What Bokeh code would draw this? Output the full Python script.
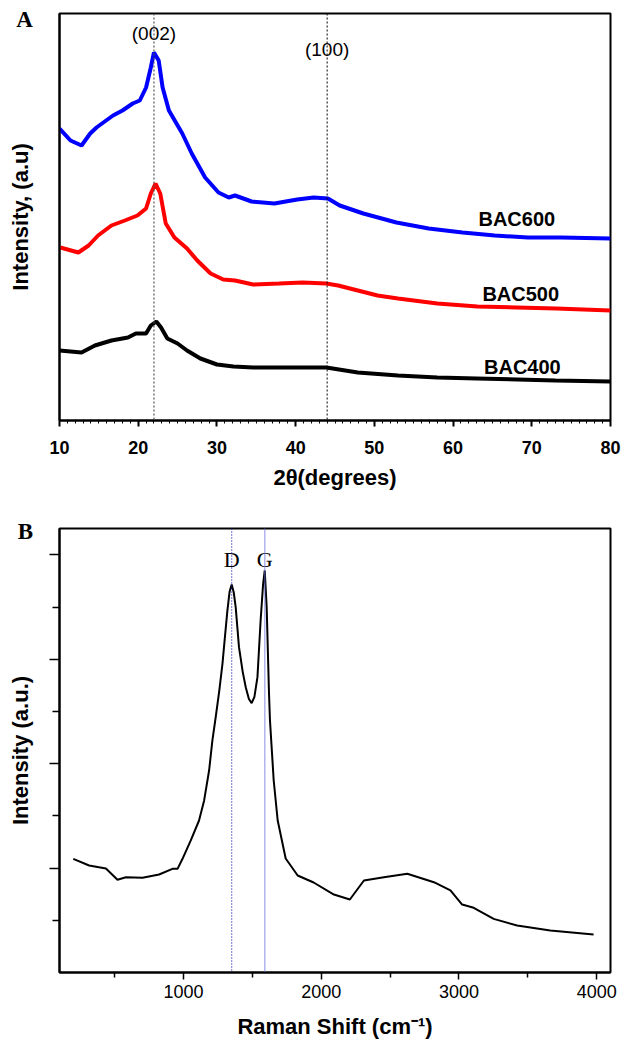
from bokeh.plotting import figure
from bokeh.layouts import column
from bokeh.models import Span, Label, FixedTicker, Range1d
from bokeh.core.properties import value
from bokeh.embed import file_html
from bokeh.resources import INLINE

# ---------------- Panel A : XRD ----------------
bac600_x = [10, 11.4, 12.8, 13.9, 14.7, 16.8, 18.0, 19.3, 20.2, 21.0, 21.6, 22.0, 22.6, 23.1,
            23.9, 25.6, 26.8, 28.5, 30.2, 31.5, 32.3, 34.4, 37.3, 40.2, 42.3, 44.1, 45.6,
            48.6, 52.8, 56.9, 61.2, 65.3, 69.5, 73.7, 80]
bac600_y = [292, 280, 275, 287, 293, 305, 310, 317, 320, 333, 353, 368, 360, 333,
            310, 287, 267, 243, 228, 223, 225, 219, 217, 221, 223, 222, 215,
            207, 198, 192, 188, 185, 183, 183, 182]

bac500_x = [10.1, 12.4, 13.7, 14.9, 16.6, 18.3, 19.9, 21.0, 21.6, 22.2, 22.8, 23.5, 24.6,
            26.2, 27.5, 29.2, 30.8, 32.3, 34.6, 37.9, 40.9, 43.9, 45.4, 47.9, 50.4, 53,
            58, 63.1, 68.1, 73.1, 80]
bac500_y = [173, 168, 175, 185, 195, 200, 205, 212, 227, 237, 227, 197, 183,
            172, 160, 147, 141, 140, 136, 137, 138, 137, 135, 130, 125, 122,
            117, 114, 113, 112, 110]

bac400_x = [10, 12.8, 14.5, 16.6, 18.7, 19.7, 21.0, 21.6, 22.3, 22.9, 23.7, 25.0, 26.2,
            27.9, 30, 32.1, 34.6, 37.9, 40.9, 43.9, 47.9, 53, 58, 63, 73, 80]
bac400_y = [70, 68, 75, 80, 83, 87, 87, 95, 99, 93, 82, 77, 70,
            62, 56, 54, 53, 53, 53, 53, 48, 45, 43, 42, 40, 39]

xrd_peaks = [22, 44]
xrd_peak_names = ["(002)", "(100)"]
xrd_peak_label_y = [387, 371]
sample_names = ["BAC600", "BAC500", "BAC400"]
sample_label_x = [68.1, 68.6, 68.8]
sample_label_y = [202, 127, 54]
xrd_ticks = [10, 20, 30, 40, 50, 60, 70, 80]

# ---------------- Panel B : Raman ----------------
raman_x = [200, 315, 437, 521, 582, 703, 823, 920, 957, 993, 1053, 1113, 1150, 1186, 1210,
           1234, 1260, 1283, 1300, 1319, 1335, 1350, 1365, 1379, 1403, 1430, 1452, 1475, 1495,
           1515, 1537, 1560, 1578, 1590, 1604, 1621,
           1628, 1655, 1684, 1742, 1829, 1945, 2092, 2208, 2310, 2455, 2625, 2818, 2938,
           3023, 3107, 3252, 3422, 3663, 3977]
raman_y = [1089, 1025, 996, 888, 913, 907, 939, 993, 993, 1089, 1265, 1456, 1648, 1935, 2223,
           2446, 2700, 2957, 3200, 3468, 3650, 3717, 3640, 3500, 3116, 2880, 2733, 2620, 2580,
           2640, 2829, 3372, 3720, 3851, 3500, 2670,
           2414, 1839, 1456, 1092, 929, 862, 747, 699, 881, 913, 946, 865, 786,
           651, 620, 514, 450, 402, 364]
raman_bands = [1350, 1590]
raman_band_names = ["D", "G"]
raman_band_label_y = [3957, 3957]
raman_xticks = [1000, 2000, 3000, 4000]
raman_xminor = [500, 1500, 2500, 3500]
raman_yticks = [1000, 2000, 3000, 4000]
raman_yminor = [500, 1500, 2500, 3500]

SANS = "Liberation Sans"
SERIF = "Liberation Serif"

SHIFT_A = 12  # the letter panel above A is taller than the wanted top border

# ---------- figure A ----------
pa = figure(width=629, height=500 + SHIFT_A, output_backend="svg", toolbar_location=None,
            x_range=Range1d(10, 80), y_range=Range1d(0, 407),
            min_border_left=59, min_border_right=12, min_border_top=13, min_border_bottom=80,
            margin=(-SHIFT_A, 0, 0, 0))
pa.grid.visible = False
pa.outline_line_color = "black"
pa.outline_line_width = 2
pa.background_fill_color = "white"
pa.border_fill_color = "white"

pa.xaxis.ticker = FixedTicker(ticks=xrd_ticks, minor_ticks=list(range(10, 81)))
pa.xaxis.axis_line_width = 2
pa.xaxis.major_tick_in = 0
pa.xaxis.major_tick_out = 6
pa.xaxis.minor_tick_in = 0
pa.xaxis.minor_tick_out = 3
pa.xaxis.major_tick_line_width = 2
pa.xaxis.minor_tick_line_width = 1
pa.xaxis.major_label_text_font = SANS
pa.xaxis.major_label_text_font_style = "bold"
pa.xaxis.major_label_text_font_size = "18px"
pa.xaxis.major_label_text_color = "black"
pa.xaxis.major_label_standoff = 14
pa.xaxis.axis_label = "2θ(degrees)"
pa.xaxis.axis_label_text_font = SANS
pa.xaxis.axis_label_text_font_style = "bold"
pa.xaxis.axis_label_text_font_size = "22px"
pa.xaxis.axis_label_text_color = "black"
pa.xaxis.axis_label_standoff = 8

pa.yaxis.ticker = FixedTicker(ticks=[])
pa.yaxis.axis_line_width = 2
pa.yaxis.axis_label = "Intensity, (a.u)"
pa.yaxis.axis_label_text_font = SANS
pa.yaxis.axis_label_text_font_style = "bold"
pa.yaxis.axis_label_text_font_size = "22px"
pa.yaxis.axis_label_text_color = "black"
pa.yaxis.axis_label_standoff = 27

pa.add_layout(Span(location=xrd_peaks[0], dimension="height", line_color="#555555",
                   line_dash="2 2", line_width=1.2))
pa.add_layout(Span(location=xrd_peaks[1], dimension="height", line_color="black",
                   line_dash="2 2", line_width=1))

pa.line(bac600_x, bac600_y, line_color="#0000ff", line_width=4)
pa.line(bac500_x, bac500_y, line_color="#ff0000", line_width=4)
pa.line(bac400_x, bac400_y, line_color="black", line_width=4)

pa.text(x=xrd_peaks, y=xrd_peak_label_y, text=xrd_peak_names, text_align="center",
        text_baseline="middle", text_font=value(SANS), text_font_size="19px", text_color="black")
pa.text(x=sample_label_x, y=sample_label_y, text=sample_names, text_align="center",
        text_baseline="middle", text_font=value(SANS), text_font_style="bold",
        text_font_size="20px", text_color="black")
pa.add_layout(Label(x=24 - 59, y=13 - 19, x_units="screen", y_units="screen",
                    text="A", text_font=SERIF, text_font_style="bold",
                    text_font_size="23px", text_align="center", text_baseline="middle",
                    text_color="black"), "above")

# ---------- figure B ----------
pb = figure(width=629, height=542, output_backend="svg", toolbar_location=None,
            x_range=Range1d(100, 4100), y_range=Range1d(0, 4253),
            min_border_left=59, min_border_right=19, min_border_top=28, min_border_bottom=70)
pb.grid.visible = False
pb.outline_line_color = "black"
pb.outline_line_width = 2
pb.background_fill_color = "white"
pb.border_fill_color = "white"

pb.xaxis.ticker = FixedTicker(ticks=raman_xticks, minor_ticks=raman_xminor)
pb.xaxis.axis_line_width = 2
pb.xaxis.major_tick_in = 0
pb.xaxis.major_tick_out = 7
pb.xaxis.minor_tick_in = 0
pb.xaxis.minor_tick_out = 5
pb.xaxis.major_tick_line_width = 1.5
pb.xaxis.minor_tick_line_width = 1.5
pb.xaxis.major_label_text_font = SANS
pb.xaxis.major_label_text_font_size = "18px"
pb.xaxis.major_label_text_color = "black"
pb.xaxis.major_label_standoff = 5
pb.xaxis.axis_label = "Raman Shift (cm⁻¹)"
pb.xaxis.axis_label_text_font = SANS
pb.xaxis.axis_label_text_font_style = "bold"
pb.xaxis.axis_label_text_font_size = "22px"
pb.xaxis.axis_label_text_color = "black"
pb.xaxis.axis_label_standoff = 13

pb.yaxis.ticker = FixedTicker(ticks=raman_yticks, minor_ticks=raman_yminor)
pb.yaxis.axis_line_width = 2
pb.yaxis.major_tick_in = 0
pb.yaxis.major_tick_out = 10
pb.yaxis.minor_tick_in = 0
pb.yaxis.minor_tick_out = 7
pb.yaxis.major_tick_line_width = 1.5
pb.yaxis.minor_tick_line_width = 1.5
pb.yaxis.major_label_text_font_size = "1px"
pb.yaxis.major_label_text_color = None
pb.yaxis.major_label_standoff = 0
pb.yaxis.axis_label = "Intensity (a.u.)"
pb.yaxis.axis_label_text_font = SANS
pb.yaxis.axis_label_text_font_style = "bold"
pb.yaxis.axis_label_text_font_size = "22px"
pb.yaxis.axis_label_text_color = "black"
pb.yaxis.axis_label_standoff = 17

pb.add_layout(Span(location=raman_bands[0], dimension="height", line_color="#1a1ab8",
                   line_dash="1 2", line_width=1.2))
pb.add_layout(Span(location=raman_bands[1], dimension="height", line_color="#6a6ae0",
                   line_dash="1 1", line_width=1.6))

pb.line(raman_x, raman_y, line_color="black", line_width=2)

pb.text(x=raman_bands, y=raman_band_label_y, text=raman_band_names, text_align="center",
        text_baseline="middle", text_font=value(SERIF), text_font_size="22px", text_color="black")
pb.add_layout(Label(x=25 - 59, y=28 - 531 + 500, x_units="screen", y_units="screen",
                    text="B", text_font=SERIF, text_font_style="bold",
                    text_font_size="23px", text_align="center", text_baseline="middle",
                    text_color="black"), "above")

layout = column(pa, pb, spacing=0)
open("out.html", "w").write(file_html(layout, INLINE))
